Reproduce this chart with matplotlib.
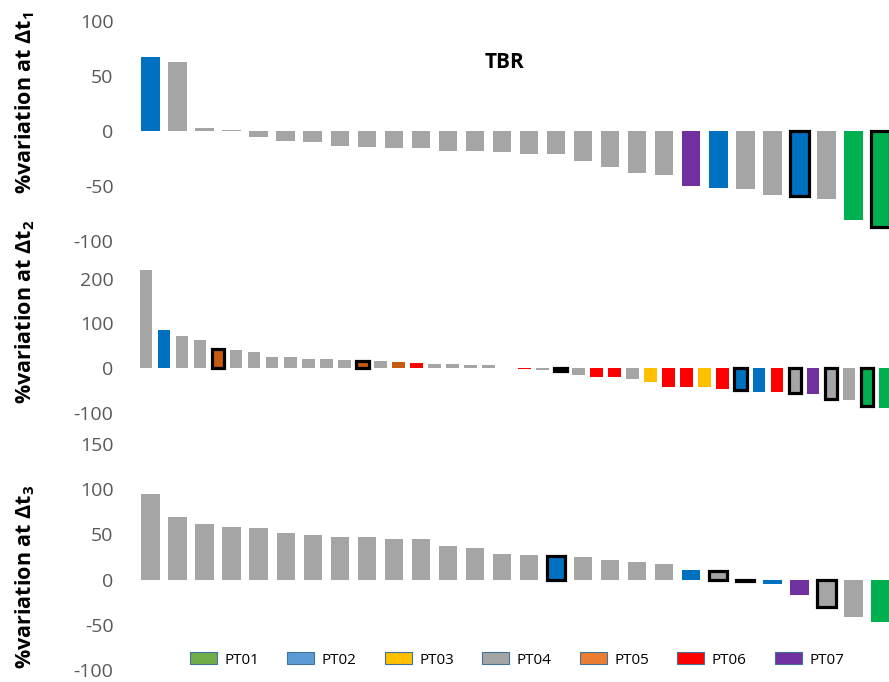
import numpy as np
import matplotlib
matplotlib.use('Agg')
import matplotlib.pyplot as plt
from matplotlib.patches import Patch

plt.rcParams['font.family'] = ['Open Sans', 'DejaVu Sans']
plt.rcParams['mathtext.fontset'] = 'custom'
plt.rcParams['mathtext.rm'] = 'Open Sans'
plt.rcParams['mathtext.bf'] = 'Open Sans:bold'

# values, sorted per panel
dt1_vals = [67, 63, 3, 1, -5, -9, -10, -14, -14.5, -15, -15, -18, -18, -19,
            -21, -21, -27, -33, -38, -40, -50, -52, -53, -58, -59, -62, -81, -87]
dt1_pt = ['PT02', 'PT04', 'PT04', 'PT04', 'PT04', 'PT04', 'PT04', 'PT04', 'PT04', 'PT04',
          'PT04', 'PT04', 'PT04', 'PT04', 'PT04', 'PT04', 'PT04', 'PT04', 'PT04', 'PT04',
          'PT07', 'PT02', 'PT04', 'PT04', 'PT02', 'PT04', 'PT01', 'PT01']
dt1_box = [25, 28]  # bars with a black outline (1-based)

dt2_vals = [220, 86, 72, 62, 43, 40, 35, 24, 24, 20, 20, 19, 16, 15, 14, 12, 10, 9, 6, 6, 1,
            -3, -4, -6, -16, -21, -21, -24, -31, -42, -42, -42, -47, -49, -54, -54,
            -57, -58, -70, -73, -85, -89]
dt2_pt = ['PT04', 'PT02', 'PT04', 'PT04', 'PT05', 'PT04', 'PT04', 'PT04', 'PT04', 'PT04',
          'PT04', 'PT04', 'PT05', 'PT04', 'PT05', 'PT06', 'PT04', 'PT04', 'PT04', 'PT04',
          'PT04', 'PT06', 'PT04', 'PT05', 'PT04', 'PT06', 'PT06', 'PT04', 'PT03', 'PT06',
          'PT06', 'PT03', 'PT06', 'PT02', 'PT02', 'PT06', 'PT04', 'PT07', 'PT04', 'PT04',
          'PT01', 'PT01']
dt2_box = [5, 13, 24, 34, 37, 39, 41]

dt3_vals = [95, 69, 61, 58, 57, 51, 49, 47.5, 47.5, 44.5, 44.5, 37, 35, 28, 27.5, 26,
            24.5, 22, 19.5, 17, 11, 9, -2, -5, -17, -30, -41, -46.5]
dt3_pt = ['PT04'] * 15 + ['PT02', 'PT04', 'PT04', 'PT04', 'PT04', 'PT02', 'PT04', 'PT04',
                          'PT02', 'PT07', 'PT04', 'PT04', 'PT01']
dt3_box = [16, 22, 23, 26]

patients = ['PT01', 'PT02', 'PT03', 'PT04', 'PT05', 'PT06', 'PT07']
bar_colors = {'PT01': '#00B050', 'PT02': '#0070C0', 'PT03': '#FFC000', 'PT04': '#A5A5A5',
              'PT05': '#C55A11', 'PT06': '#FF0000', 'PT07': '#7030A0'}
legend_colors = ['#70AD47', '#5B9BD5', '#FFC000', '#A5A5A5', '#ED7D31', '#FF0000', '#7030A0']

W, H = 889, 682
fig = plt.figure(figsize=(W / 100, H / 100), dpi=100)

def panel(px_top, px_bot, ylim, ticks, vals, pts, boxed, width, label, label_y):
    ax = fig.add_axes([137 / W, 1 - px_bot / H, 757 / W, (px_bot - px_top) / H])
    x = np.arange(len(vals))
    cols = [bar_colors[p] for p in pts]
    ax.bar(x, vals, width=width, color=cols, linewidth=0)
    bi = [b - 1 for b in boxed]
    ax.bar(x[bi], np.array(vals)[bi], width=width, color=np.array(cols)[bi],
           edgecolor='black', linewidth=2.3)
    ax.set_xlim(-0.5, len(vals) - 0.5)
    ax.set_ylim(*ylim)
    ax.set_yticks(ticks)
    ax.set_yticklabels([str(t) for t in ticks])
    ax.tick_params(axis='y', length=0, pad=17, labelsize=14, labelcolor='#595959')
    ax.set_xticks([])
    for s in ax.spines.values():
        s.set_visible(False)
    ax.patch.set_alpha(0)
    fig.text(25 / W, 1 - label_y / H, label, rotation=90, ha='center', va='center',
             fontsize=15.5, fontweight='bold')
    return ax

panel(21, 241, (-100, 100), [-100, -50, 0, 50, 100], dt1_vals, dt1_pt, dt1_box,
      0.685, r'%variation at Δt$_\mathbf{1}$', 103)
# middle panel: 200 at y=279, -100 at y=412.5, top extended so the tallest bar is not clipped
panel(279 - 30 * 0.445, 412.5, (-100, 230), [-100, 0, 100, 200], dt2_vals, dt2_pt, dt2_box,
      0.7, r'%variation at Δt$_\mathbf{2}$', 312)
panel(444, 670, (-100, 150), [-100, -50, 0, 50, 100, 150], dt3_vals, dt3_pt, dt3_box,
      0.68, r'%variation at Δt$_\mathbf{3}$', 577)

fig.text(505 / W, 1 - 62 / H, 'TBR', ha='center', va='center', fontsize=15, fontweight='bold')

handles = [Patch(facecolor=c, edgecolor='#41719C', linewidth=0.8) for c in legend_colors]
fig.legend(handles, patients, loc='center', bbox_to_anchor=(517 / W, 1 - 660 / H), ncol=7,
           frameon=False, fontsize=11, handlelength=1.75, handleheight=0.85,
           handletextpad=0.5, columnspacing=1.85)

fig.savefig('out.png', dpi=100)
